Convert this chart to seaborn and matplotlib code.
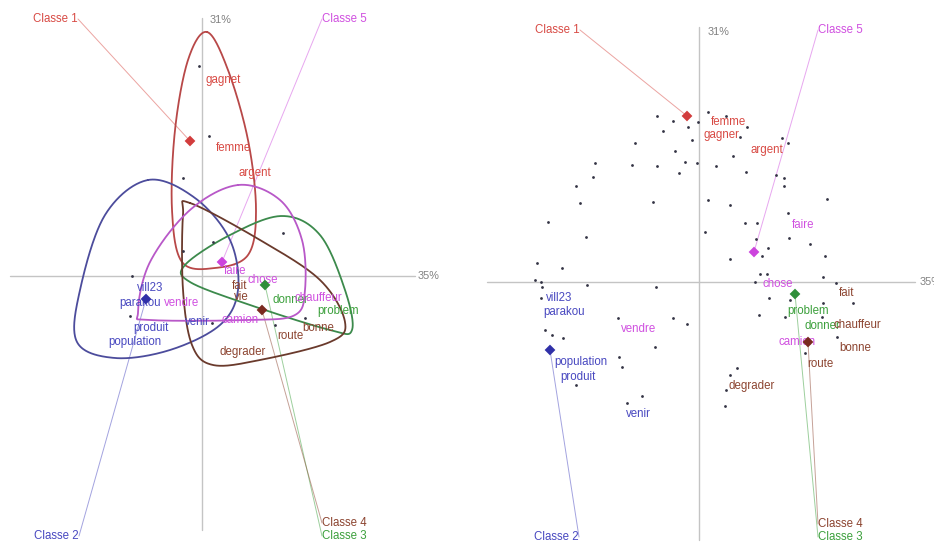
import numpy as np
import pandas as pd
import matplotlib
matplotlib.use("Agg")
import matplotlib.pyplot as plt
import seaborn as sns

sns.set_style("white")
plt.rcParams['font.family'] = ['Liberation Sans', 'DejaVu Sans']

# ---------------- data ----------------
classes = ["Classe 1", "Classe 2", "Classe 3", "Classe 4", "Classe 5"]
class_colors = ["#d23c3c", "#3030a8", "#2f8f3a", "#7a2a20", "#cc44dd"]
word_colors = ["#d84a44", "#4848c0", "#3ca03c", "#8c4430", "#d050e0"]
hull_colors = ["#b84848", "#4c4c9c", "#3c8a4c", "#6a3a2c", "#b858c8"]
axis_pct = ["31%", "35%"]

# left panel: centroids (factor 1, factor 2)
L_cx = [-0.12, -0.56, 0.63, 0.60, 0.20]
L_cy = [1.35, -0.23, -0.09, -0.34, 0.14]
# left panel: class label anchors
L_lx = [-1.24, -1.23, 1.20, 1.20, 1.20]
L_ly = [2.57, -2.60, -2.60, -2.47, 2.57]
L_ha = ["right", "right", "left", "left", "left"]

# left panel words
L_words = ["gagnet", "femme", "argent",
           "vill23", "parakou", "produit", "population", "venir",
           "donner", "problem",
           "fait", "vie", "bonne", "route", "degrader",
           "faire", "chose", "vendre", "chauffeur", "camion"]
L_wcls = [0, 0, 0, 1, 1, 1, 1, 1, 2, 2, 3, 3, 3, 3, 3, 4, 4, 4, 4, 4]
L_wx = [0.21, 0.31, 0.53, -0.52, -0.62, -0.51, -0.67, -0.05, 0.88, 1.36,
        0.38, 0.39, 1.16, 0.88, 0.41, 0.33, 0.61, -0.20, 1.16, 0.38]
L_wy = [1.96, 1.28, 1.03, -0.12, -0.27, -0.52, -0.66, -0.46, -0.24, -0.35,
        -0.10, -0.21, -0.52, -0.60, -0.76, 0.05, -0.04, -0.27, -0.22, -0.44]

# left panel small points
L_px = [-0.03, 0.07, -0.19, -0.70, -0.72, 0.10, 0.81, 1.03, 0.73, -0.19, 0.11]
L_py = [2.10, 1.40, 0.98, 0.00, -0.40, -0.47, 0.43, -0.42, -0.49, 0.25, 0.34]

# left panel envelopes (control points per class)
hull1_x = [0.05, 0.26, 0.46, 0.54, 0.46, 0.13, -0.20, -0.30, -0.27, -0.14]
hull1_y = [2.44, 2.06, 1.36, 0.66, 0.21, 0.08, 0.14, 0.66, 1.46, 2.16]
hull2_x = [-0.54, -0.07, 0.28, 0.36, 0.18, -0.32, -0.87, -1.25, -1.22, -0.97]
hull2_y = [0.96, 0.78, 0.36, -0.14, -0.49, -0.74, -0.82, -0.66, -0.14, 0.61]
hull3_x = [-0.17, 0.28, 0.80, 1.18, 1.43, 1.50, 1.28, 0.48, -0.12]
hull3_y = [0.11, 0.41, 0.60, 0.41, -0.14, -0.54, -0.54, -0.29, -0.06]
hull4_x = [-0.12, 0.58, 1.18, 1.43, 1.28, 0.58, 0.11, -0.10, -0.19, -0.19]
hull4_y = [0.73, 0.36, -0.04, -0.46, -0.66, -0.84, -0.89, -0.69, -0.14, 0.61]
hull5_x = [0.36, 0.78, 1.00, 1.03, 0.93, 0.48, -0.52, -0.64, -0.52, -0.12]
hull5_y = [0.91, 0.76, 0.36, -0.14, -0.39, -0.44, -0.44, -0.36, 0.14, 0.66]

# right panel: centroids
R_cx = [-0.12, -1.49, 0.96, 1.09, 0.55]
R_cy = [1.66, -0.68, -0.12, -0.60, 0.30]
R_lx = [-1.19, -1.20, 1.19, 1.19, 1.19]
R_ly = [2.52, -2.55, -2.55, -2.42, 2.52]
R_ha = ["right", "right", "left", "left", "left"]

R_words = ["femme", "gagner", "argent",
           "vill23", "parakou", "population", "produit", "venir",
           "problem", "donner",
           "fait", "chauffeur", "bonne", "route", "degrader",
           "faire", "chose", "vendre", "camion"]
R_wcls = [0, 0, 0, 1, 1, 1, 1, 1, 2, 2, 3, 3, 3, 3, 3, 4, 4, 4, 4]
R_wx = [0.29, 0.23, 0.68, -1.40, -1.35, -1.18, -1.21, -0.61, 1.09, 1.23,
        1.48, 1.58, 1.56, 1.21, 0.53, 1.04, 0.79, -0.60, 0.98]
R_wy = [1.60, 1.47, 1.32, -0.16, -0.30, -0.80, -0.95, -1.32, -0.29, -0.44,
        -0.11, -0.43, -0.66, -0.82, -1.04, 0.57, -0.02, -0.47, -0.60]

R_px = [-0.42, -0.26, -0.36, -0.11, -0.01, 0.09, 0.27, 0.48, 0.41, -0.07,
        -0.64, -0.24, 0.83, 0.89, 0.34, -0.14, -0.02, -1.04, -0.67, -0.42,
        0.17, -0.20, 0.47, 0.77, 0.85, 0.85, -1.23, -1.06, -0.46, 1.28,
        -1.19, 0.09, 0.31, -1.51, 0.89, 0.46, 0.58, -1.13, 0.06, 0.57,
        0.90, 1.11, 0.69, 0.63, 1.26, 0.31, -1.62, -1.37, 0.61, 0.68,
        1.24, -1.64, -1.58, -1.57, -1.12, -0.43, -1.58, -1.54, -1.47, -1.36,
        -0.81, -0.26, -0.12, -0.44, -0.80, -0.77, -1.23, -0.57, -0.72, 0.56,
        1.37, 0.70, 0.91, 1.24, 1.54, 0.60, 0.86, 1.23, 1.38, 1.06,
        0.38, 0.31, 0.27, 0.26]
R_py = [1.66, 1.61, 1.51, 1.55, 1.60, 1.70, 1.66, 1.55, 1.45, 1.42,
        1.39, 1.31, 1.44, 1.39, 1.26, 1.20, 1.19, 1.19, 1.17, 1.16,
        1.16, 1.09, 1.10, 1.07, 1.04, 0.96, 0.96, 1.05, 0.80, 0.83,
        0.79, 0.82, 0.77, 0.60, 0.69, 0.59, 0.59, 0.45, 0.50, 0.43,
        0.44, 0.38, 0.34, 0.26, 0.26, 0.23, 0.19, 0.14, 0.08, 0.08,
        0.05, 0.02, 0.00, -0.05, -0.03, -0.05, -0.16, -0.48, -0.53, -0.56,
        -0.36, -0.36, -0.42, -0.65, -0.75, -0.85, -1.03, -1.14, -1.21, 0.00,
        -0.01, -0.16, -0.18, -0.21, -0.21, -0.33, -0.35, -0.35, -0.55, -0.71,
        -0.86, -0.93, -1.08, -1.24]

FS = 8.3


def closed_spline(xs, ys, n=40):
    p = np.column_stack([xs, ys])
    m = len(p)
    out = []
    for i in range(m):
        p0, p1, p2, p3 = p[(i - 1) % m], p[i], p[(i + 1) % m], p[(i + 2) % m]
        t = np.linspace(0, 1, n, endpoint=False)[:, None]
        seg = 0.5 * ((2 * p1) + (-p0 + p2) * t + (2 * p0 - 5 * p1 + 4 * p2 - p3) * t ** 2
                     + (-p0 + 3 * p1 - 3 * p2 + p3) * t ** 3)
        out.append(seg)
    out = np.vstack(out + [out[0][:1]])
    return out[:, 0], out[:, 1]


def draw_panel(ax, cx, cy, lx, ly, ha, words, wcls, wx, wy, px, py,
               xlim, ylim, vline, hline, pct_pos):
    ax.set_xlim(*xlim)
    ax.set_ylim(*ylim)
    ax.axis("off")
    # factor axes
    ax.plot([0, 0], vline, color="#c4c4c4", lw=1.0, zorder=1)
    ax.plot(hline, [0, 0], color="#c4c4c4", lw=1.0, zorder=1)
    ax.text(pct_pos[0][0], pct_pos[0][1], axis_pct[0], fontsize=FS - 0.5,
            color="#808080", ha="left", va="center")
    ax.text(pct_pos[1][0], pct_pos[1][1], axis_pct[1], fontsize=FS - 0.5,
            color="#808080", ha="left", va="center")
    # class label lines
    for k in range(len(classes)):
        ax.plot([lx[k], cx[k]], [ly[k], cy[k]], color=word_colors[k], lw=0.7,
                alpha=0.5, zorder=2)
        ax.text(lx[k], ly[k], classes[k], color=word_colors[k], fontsize=FS,
                ha=ha[k], va="center", zorder=5)
    # small points
    sns.scatterplot(x=px, y=py, ax=ax, color="#333344", s=4, linewidth=0,
                    legend=False, zorder=3)
    # words
    for w, k, x, y in zip(words, wcls, wx, wy):
        ax.text(x, y, w, color=word_colors[k], fontsize=FS, ha="center",
                va="center", zorder=4)
    # centroids
    df = pd.DataFrame({"x": cx, "y": cy, "c": classes})
    sns.scatterplot(data=df, x="x", y="y", hue="c", palette=class_colors,
                    marker="D", s=30, linewidth=0, legend=False, ax=ax, zorder=6)


fig = plt.figure(figsize=(9.34, 5.42), dpi=100)
axL = fig.add_axes([0, 0, 0.5, 1])
axR = fig.add_axes([0.5, 0, 0.5, 1])

draw_panel(axL, L_cx, L_cy, L_lx, L_ly, L_ha, L_words, L_wcls, L_wx, L_wy,
           L_px, L_py, (-2.02, 2.65), (-2.66, 2.76), (2.58, -2.54),
           (-1.92, 2.13), [(0.08, 2.56), (2.16, 0.0)])

hulls = [(hull1_x, hull1_y), (hull2_x, hull2_y), (hull3_x, hull3_y),
         (hull4_x, hull4_y), (hull5_x, hull5_y)]
for k, (hx, hy) in enumerate(hulls):
    sx, sy = closed_spline(hx, hy)
    axL.plot(sx, sy, color=hull_colors[k], lw=1.3, zorder=2.5)

draw_panel(axR, R_cx, R_cy, R_lx, R_ly, R_ha, R_words, R_wcls, R_wx, R_wy,
           R_px, R_py, (-2.32, 2.35), (-2.60, 2.82), (2.55, -2.58),
           (-2.12, 2.16), [(0.09, 2.50), (2.21, 0.0)])

fig.savefig("out.png", dpi=100, facecolor="white")
